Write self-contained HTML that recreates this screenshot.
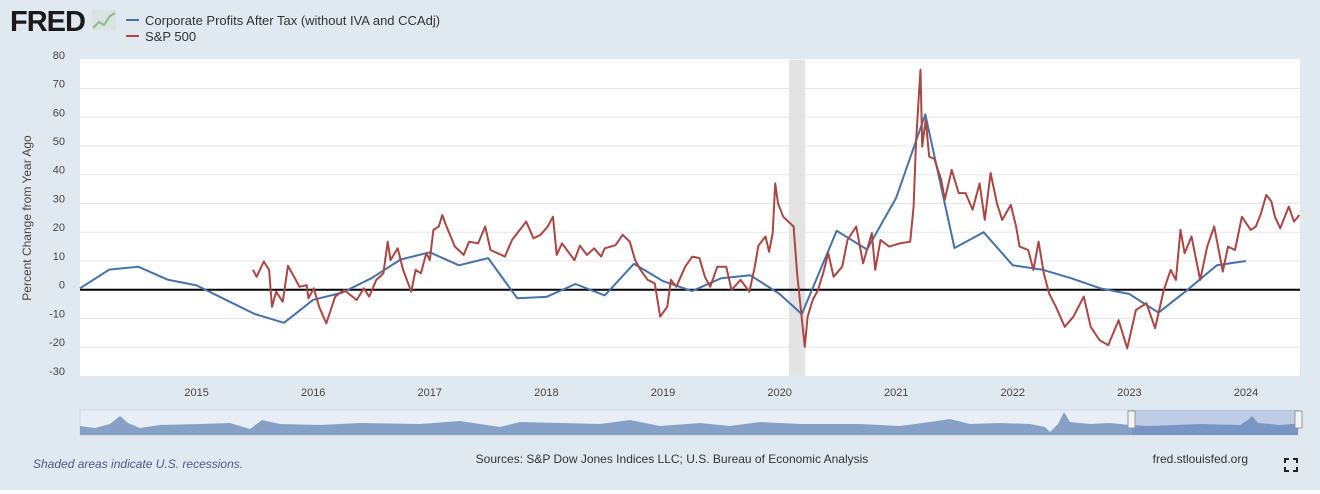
<!DOCTYPE html>
<html><head><meta charset="utf-8">
<style>
body{margin:0;width:1320px;height:494px;background:#fff;overflow:hidden;font-family:"Liberation Sans",sans-serif;}
#wrap{position:absolute;left:0;top:0;width:1320px;height:490px;background:#e1e9f0;}
svg{position:absolute;left:0;top:0;}
</style></head><body>
<div id="wrap">
<svg id="chart" width="1320" height="494">
  <text x="10" y="31" font-size="29" font-weight="bold" fill="#1a1a1a" font-family="Liberation Sans, sans-serif" letter-spacing="-1">FRED</text>
  <g>
    <rect x="92" y="10" width="24" height="20" fill="#d4e0d4" opacity="0.6"/>
    <polyline points="93,28 99,22 104,25 110,16 115,13" fill="none" stroke="#8fb88f" stroke-width="2"/>
  </g>
  <g>
    <line x1="126" y1="20" x2="139" y2="20" stroke="#4572a7" stroke-width="2"/>
    <text x="145" y="25" font-size="13" fill="#333">Corporate Profits After Tax (without IVA and CCAdj)</text>
    <line x1="126" y1="36" x2="139" y2="36" stroke="#aa4643" stroke-width="2"/>
    <text x="145" y="41" font-size="13" fill="#333">S&amp;P 500</text>
  </g>
  <rect x="80" y="59" width="1220" height="317" fill="#fff"/>
  <g id="grid"></g>
  <rect id="recession" fill="#e3e3e3"/>
  <g id="yticks"></g>
  <g id="xticks"></g>
  <text transform="translate(31,218) rotate(-90)" text-anchor="middle" font-size="12" fill="#444">Percent Change from Year Ago</text>
  <g id="series"></g>
  <g>
    <rect x="80" y="410" width="1218" height="25" fill="#e8eef5" stroke="#cfd8e3"/>
    <path d="M80,426 L95,428 L110,424 L120,416 L128,423 L140,428 L160,425 L200,424 L230,423 L250,429 L262,420 L280,424 L320,425 L360,423 L420,424 L460,421 L480,424 L500,427 L520,422 L560,423 L600,424 L630,420 L660,426 L700,423 L730,426 L760,422 L800,424 L860,424 L900,426 L930,422 L950,419 L970,424 L1000,423 L1030,424 L1045,427 L1050,432 L1058,424 L1064,412 L1070,422 L1090,424 L1110,423 L1130,425 L1150,426 L1200,424 L1240,425 L1248,420 L1252,416 L1258,423 L1280,425 L1292,424 L1298,424 L1298,435 L80,435 Z" fill="#86a0c6"/>
    <rect x="1132" y="410" width="166" height="25" fill="#5d7fbf" opacity="0.3"/>
    <rect x="1128" y="411" width="7" height="17" fill="#f4f4f4" stroke="#999"/>
    <rect x="1295" y="411" width="7" height="17" fill="#f4f4f4" stroke="#999"/>
  </g>
  <text x="33" y="468" font-size="12" font-style="italic" fill="#4a5a8a">Shaded areas indicate U.S. recessions.</text>
  <text x="672" y="463" text-anchor="middle" font-size="12" fill="#333">Sources: S&amp;P Dow Jones Indices LLC; U.S. Bureau of Economic Analysis</text>
  <text x="1248" y="463" text-anchor="end" font-size="12" fill="#333">fred.stlouisfed.org</text>
  <g stroke="#222" stroke-width="2" fill="none">
    <path d="M1285,463 v-4 h4 M1293,459 h4 v4 M1297,467 v4 h-4 M1289,471 h-4 v-4"/>
  </g>
</svg>
</div>
<script>
const yTicks=[80,70,60,50,40,30,20,10,0,-10,-20,-30];
const xTickYears=[2015,2016,2017,2018,2019,2020,2021,2022,2023,2024];
const recession=[2020.08,2020.22];
const profitDates=[2014.0,2014.25,2014.5,2014.75,2015.0,2015.25,2015.5,2015.75,2016.0,2016.25,2016.5,2016.75,2017.0,2017.25,2017.5,2017.75,2018.0,2018.25,2018.5,2018.75,2019.0,2019.25,2019.5,2019.75,2020.0,2020.19,2020.49,2020.75,2021.0,2021.25,2021.5,2021.75,2022.0,2022.25,2022.5,2022.75,2023.0,2023.25,2023.5,2023.75,2024.0];
const profitValues=[0.5,7,8,3.5,1.5,-3.5,-8.5,-11.5,-3.5,-1,4,10.5,13,8.5,11,-3,-2.5,2,-2,9,3,-0.5,4,5,-1.5,-8.5,20.5,14,32,61,14.5,20,8.5,7,4,0.5,-1.5,-8,0,8.5,10];
const spDates=[2015.484,2015.515,2015.576,2015.622,2015.647,2015.683,2015.738,2015.784,2015.836,2015.882,2015.944,2015.959,2016.005,2016.051,2016.112,2016.189,2016.265,2016.373,2016.434,2016.48,2016.541,2016.602,2016.639,2016.663,2016.725,2016.771,2016.841,2016.878,2016.924,2016.97,2017.0,2017.031,2017.077,2017.107,2017.138,2017.215,2017.291,2017.337,2017.414,2017.475,2017.521,2017.644,2017.705,2017.827,2017.889,2017.95,2018.011,2018.057,2018.088,2018.134,2018.241,2018.287,2018.348,2018.409,2018.47,2018.501,2018.593,2018.654,2018.715,2018.761,2018.807,2018.869,2018.93,2018.976,2019.037,2019.068,2019.114,2019.19,2019.251,2019.313,2019.359,2019.405,2019.466,2019.542,2019.588,2019.665,2019.741,2019.787,2019.818,2019.879,2019.91,2019.941,2019.962,2019.986,2020.031,2020.09,2020.12,2020.15,2020.189,2020.216,2020.24,2020.284,2020.329,2020.373,2020.418,2020.463,2020.537,2020.582,2020.657,2020.716,2020.791,2020.82,2020.865,2020.94,2021.03,2021.12,2021.149,2021.17,2021.193,2021.208,2021.223,2021.253,2021.283,2021.327,2021.387,2021.417,2021.476,2021.536,2021.595,2021.655,2021.715,2021.76,2021.81,2021.864,2021.909,2021.983,2022.028,2022.058,2022.132,2022.177,2022.221,2022.266,2022.311,2022.37,2022.445,2022.52,2022.609,2022.668,2022.743,2022.818,2022.907,2022.981,2023.056,2023.146,2023.22,2023.295,2023.354,2023.399,2023.438,2023.473,2023.533,2023.607,2023.667,2023.727,2023.801,2023.846,2023.906,2023.965,2024.04,2024.085,2024.129,2024.174,2024.218,2024.248,2024.293,2024.367,2024.412,2024.457];
const spValues=[6.9,4.5,9.8,6.9,-5.9,-0.7,-4.2,8.3,4.5,1,1.6,-3,0.5,-5.9,-11.7,-2.4,-0.1,-3.6,0.5,-2.4,3.4,5.7,16.7,10.3,14.4,6.9,-0.7,6.9,5.7,12.7,10.3,20.8,22,26,22.5,15,12.1,16.7,16.1,22,13.8,11.5,17.3,23.7,17.9,19.1,22,25.4,12.1,16.1,10.3,15.3,12.1,14.4,11.5,14.4,15.5,19.1,16.7,10.3,6.9,3.4,2.2,-9.4,-5.9,3.4,1,8,11.5,11,4.5,1,8,8,-0.1,3.4,-0.7,8,15.3,18.5,13.2,19.7,37,30.1,25.4,23.1,22,5.7,-9.4,-19.9,-9.4,-3.6,-0.1,5.7,12.7,4.5,8,17.3,22,9.2,19.7,6.9,17.3,15,16.1,16.7,28.9,51,66.7,76.5,49.8,59.1,46.3,45.5,38.2,31.3,41.7,33.6,33.6,27.8,37,24.3,40.6,30.1,24.3,29.5,22,15,13.8,6.9,16.7,5.7,-1.3,-5.9,-12.9,-9.4,-2.4,-12.9,-17.5,-19.3,-10.6,-20.4,-7.1,-4.7,-13.4,-0.1,6.9,3.4,20.8,12.7,18.5,3.4,15,22,6.3,15,13.8,25.4,20.8,22,26.6,33,30.7,25.4,21.4,28.9,23.7,26];

const NS='http://www.w3.org/2000/svg';
const X0=80,X1=1300,Y0=59.6,Y1=375.8;
function xs(t){return X0+(t-2014.0)*116.6;}
function ys(v){return 289.7-v*2.874;}
function mk(tag,attrs,parent){const e=document.createElementNS(NS,tag);for(const k in attrs)e.setAttribute(k,attrs[k]);parent.appendChild(e);return e;}

const grid=document.getElementById('grid'), yt=document.getElementById('yticks'), xt=document.getElementById('xticks');
yTicks.forEach(v=>{
  if(v!==80&&v!==-30&&v!==0){const g=mk('line',{x1:X0,x2:X1,y1:ys(v),y2:ys(v),stroke:'#e6e6e6','stroke-width':1},grid);
  
  }
  const t=mk('text',{x:65,y:ys(v)-1,'text-anchor':'end','font-size':11,fill:'#444'},yt);
  t.textContent=v;
  
  
});
xTickYears.forEach(yr=>{
  const t=mk('text',{x:xs(yr),y:396,'text-anchor':'middle','font-size':11,fill:'#444'},xt);
  t.textContent=yr;
  
  
});
const rec=document.getElementById('recession');
rec.setAttribute('x',xs(recession[0]));rec.setAttribute('y',Y0);
rec.setAttribute('width',xs(recession[1])-xs(recession[0]));rec.setAttribute('height',Y1-Y0);

const ser=document.getElementById('series');
const zl=mk('line',{x1:X0,x2:X1,y1:ys(0),y2:ys(0),stroke:'#000','stroke-width':2},ser);


const pPts=profitDates.map((d,i)=>xs(d).toFixed(1)+','+ys(profitValues[i]).toFixed(1)).join(' ');
const pl=mk('polyline',{points:pPts,fill:'none',stroke:'#4572a7','stroke-width':2,'stroke-linejoin':'round'},ser);


const sPts=spDates.map((d,i)=>xs(d).toFixed(1)+','+ys(spValues[i]).toFixed(1)).join(' ');
const sl=mk('polyline',{points:sPts,fill:'none',stroke:'#aa4643','stroke-width':2,'stroke-linejoin':'round'},ser);


</script>
</body></html>
